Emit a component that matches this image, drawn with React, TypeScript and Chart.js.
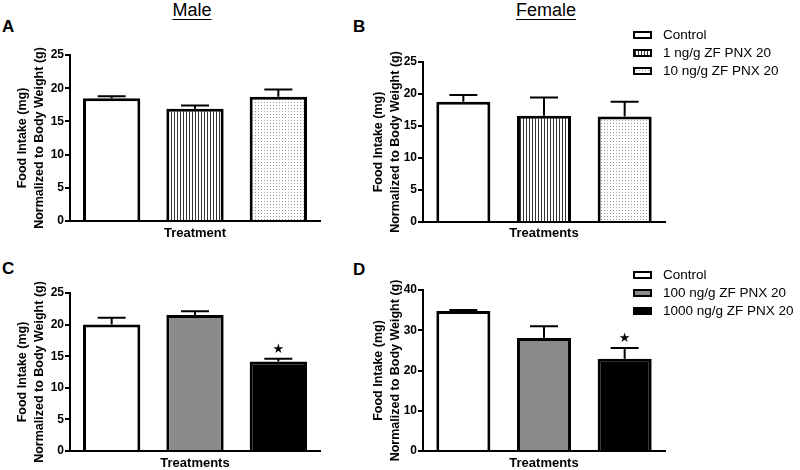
import React, { useEffect, useRef } from 'react';
import { Chart, registerables } from 'chart.js';
Chart.register(...registerables);

const FONT = "'Liberation Sans', Arial, Helvetica, sans-serif";

const lowDoseLabels = ['Control', '1 ng/g ZF PNX 20', '10 ng/g ZF PNX 20'];
const highDoseLabels = ['Control', '100 ng/g ZF PNX 20', '1000 ng/g ZF PNX 20'];

const maleLowMean = [18.5, 16.9, 18.7];
const maleLowSem = [0.3, 0.5, 1.1];
const femaleLowMean = [18.8, 16.6, 16.5];
const femaleLowSem = [1.05, 2.85, 2.3];
const maleHighMean = [20.0, 21.5, 14.15];
const maleHighSem = [1.1, 0.6, 0.45];
const femaleHighMean = [34.8, 28.1, 22.9];
const femaleHighSem = [0.25, 2.9, 2.7];
const maleHighStars = [false, false, true];
const femaleHighStars = [false, false, true];

const yTicks25 = [0, 5, 10, 15, 20, 25];
const yTicks40 = [0, 10, 20, 30, 40];
const yTitleLines = ['Food Intake (mg)', 'Normalized to Body Weight (g)'];

function makePattern(ctx: CanvasRenderingContext2D, kind: string): any {
  const c = document.createElement('canvas');
  const x = c.getContext('2d')!;
  if (kind === 'stripes') {
    c.width = 3; c.height = 2;
    x.fillStyle = '#fff'; x.fillRect(0, 0, 3, 2);
    x.fillStyle = '#333'; x.fillRect(0, 0, 1, 2);
  } else {
    c.width = 3; c.height = 3;
    x.fillStyle = '#fff'; x.fillRect(0, 0, 3, 3);
    x.fillStyle = '#9a9a9a'; x.fillRect(0, 0, 1, 1);
  }
  return ctx.createPattern(c, 'repeat');
}

type PanelProps = {
  left: number; top: number; width: number; height: number;
  area: { l: number; t: number; r: number; b: number };
  labels: string[]; means: number[]; sem: number[]; stars?: boolean[];
  ticks: number[]; fills: string[]; xTitle: string; barPct: number; yTitleX: number; xTitleY: number;
};

function Panel(p: PanelProps) {
  const ref = useRef<HTMLCanvasElement>(null);
  useEffect(() => {
    const canvas = ref.current!;
    const ctx = canvas.getContext('2d')!;
    const bg = p.fills.map((f) => (f === 'stripes' || f === 'dots' ? makePattern(ctx, f) : f));
    const errPlugin = {
      id: 'errbars',
      afterDatasetsDraw(chart: any) {
        const meta = chart.getDatasetMeta(0);
        const ys = chart.scales.y;
        const c = chart.ctx;
        c.save();
        c.strokeStyle = '#000';
        c.lineWidth = 2;
        meta.data.forEach((bar: any, i: number) => {
          const base = ys.getPixelForValue(p.means[i]);
          const topPx = ys.getPixelForValue(p.means[i] + p.sem[i]);
          c.beginPath();
          c.moveTo(bar.x, base);
          c.lineTo(bar.x, topPx);
          c.moveTo(bar.x - 14, topPx);
          c.lineTo(bar.x + 14, topPx);
          c.stroke();
          if (p.stars && p.stars[i]) {
            c.fillStyle = '#000';
            c.font = '13px "DejaVu Sans"';
            c.textAlign = 'center';
            c.textBaseline = 'middle';
            c.fillText('★', bar.x, topPx - 9);
          }
        });
        c.restore();
      },
    };
    const chart = new Chart(canvas, {
      type: 'bar',
      data: {
        labels: p.labels,
        datasets: [
          {
            data: p.means,
            backgroundColor: bg,
            borderColor: '#000',
            borderWidth: 3,
            borderSkipped: 'start',
            categoryPercentage: 1,
            barPercentage: p.barPct,
          } as any,
        ],
      },
      options: {
        responsive: false,
        animation: false,
        devicePixelRatio: 1,
        layout: { padding: { left: 0, top: p.area.t, right: p.width - p.area.r, bottom: 0 } },
        plugins: { legend: { display: false }, tooltip: { enabled: false } },
        scales: {
          x: {
            grid: { display: false },
            border: { display: true, color: '#000', width: 2 },
            ticks: { display: false },
            title: {
              display: true,
              text: p.xTitle,
              color: '#000',
              font: { family: FONT, size: 13, weight: 'bold', lineHeight: 1 },
              padding: { top: 0, bottom: p.height - 6.5 - p.xTitleY },
            },
            afterFit: (s: any) => { s.height = p.height - p.area.b; },
          },
          y: {
            min: p.ticks[0],
            max: p.ticks[p.ticks.length - 1],
            afterBuildTicks: (s: any) => { s.ticks = p.ticks.map((v) => ({ value: v })); },
            grid: { drawOnChartArea: false, drawTicks: true, tickLength: 5, color: '#000', lineWidth: 2 },
            border: { display: true, color: '#000', width: 2 },
            ticks: { color: '#000', padding: 1, font: { family: FONT, size: 12, weight: 'bold' } },
            title: {
              display: true,
              text: yTitleLines,
              color: '#000',
              font: { family: FONT, size: 12.5, weight: 'bold', lineHeight: 17 / 12.5 },
              padding: { top: p.yTitleX - 8.5, bottom: 0 },
            },
            afterFit: (s: any) => { s.width = p.area.l; },
          },
        },
      } as any,
      plugins: [errPlugin],
    });
    return () => chart.destroy();
  }, []);
  return (
    <canvas
      ref={ref}
      width={p.width}
      height={p.height}
      style={{ position: 'absolute', left: p.left, top: p.top, width: p.width, height: p.height }}
    />
  );
}

const swatchStyles: Record<string, React.CSSProperties> = {
  white: { background: '#fff' },
  stripes: { background: 'repeating-linear-gradient(90deg, #333 0 1px, #fff 1px 3px)' },
  dots: {
    backgroundColor: '#fff',
    backgroundImage: 'radial-gradient(circle, #999 0.7px, transparent 0.9px)',
    backgroundSize: '3px 3px',
  },
  grey: { background: '#8a8a8a' },
  black: { background: '#000' },
};

function Legend({ top, labels, kinds }: { top: number; labels: string[]; kinds: string[] }) {
  return (
    <>
      {labels.map((l, i) => {
        const cy = top + i * 18;
        return (
          <React.Fragment key={i}>
            <div
              style={{
                position: 'absolute', left: 633, top: cy - 4, width: 19, height: 8,
                border: '2px solid #000', boxSizing: 'border-box', ...swatchStyles[kinds[i]],
              }}
            />
            <div
              style={{
                position: 'absolute', left: 663, top: cy - 9, height: 18, lineHeight: '18px',
                fontFamily: FONT, fontSize: 13.5, color: '#000', whiteSpace: 'nowrap',
              }}
            >
              {l}
            </div>
          </React.Fragment>
        );
      })}
    </>
  );
}

const letterStyle = (left: number, top: number): React.CSSProperties => ({
  position: 'absolute', left, top, fontFamily: FONT, fontWeight: 'bold', fontSize: 17,
  lineHeight: '17px', color: '#000',
});

export default function App() {
  return (
    <div style={{ position: 'fixed', left: 0, top: 0, width: 800, height: 470, background: '#fff', overflow: 'hidden' }}>
      <div style={{ position: 'absolute', left: 192, top: 1, transform: 'translateX(-50%)', fontFamily: FONT, fontSize: 18, lineHeight: '18px', textDecoration: 'underline', textUnderlineOffset: '3px', color: '#000' }}>Male</div>
      <div style={{ position: 'absolute', left: 546, top: 1, transform: 'translateX(-50%)', fontFamily: FONT, fontSize: 18, lineHeight: '18px', textDecoration: 'underline', textUnderlineOffset: '3px', color: '#000' }}>Female</div>
      <div style={letterStyle(2, 18)}>A</div>
      <div style={letterStyle(353, 18)}>B</div>
      <div style={letterStyle(2, 260)}>C</div>
      <div style={letterStyle(353, 261)}>D</div>

      <Panel left={0} top={0} width={330} height={240} area={{ l: 70, t: 55, r: 320, b: 221 }}
        labels={lowDoseLabels} means={maleLowMean} sem={maleLowSem} ticks={yTicks25}
        fills={['#fff', 'stripes', 'dots']} xTitle="Treatment" barPct={0.688} yTitleX={23} xTitleY={233} />
      <Panel left={340} top={0} width={335} height={240} area={{ l: 83, t: 62, r: 325, b: 222 }}
        labels={lowDoseLabels} means={femaleLowMean} sem={femaleLowSem} ticks={yTicks25}
        fills={['#fff', 'stripes', 'dots']} xTitle="Treatments" barPct={0.67} yTitleX={39} xTitleY={233} />
      <Panel left={0} top={240} width={330} height={230} area={{ l: 70, t: 53, r: 320, b: 211 }}
        labels={highDoseLabels} means={maleHighMean} sem={maleHighSem} stars={maleHighStars} ticks={yTicks25}
        fills={['#fff', '#8a8a8a', '#000']} xTitle="Treatments" barPct={0.688} yTitleX={23} xTitleY={223} />
      <Panel left={340} top={240} width={335} height={230} area={{ l: 83, t: 50, r: 325, b: 211 }}
        labels={highDoseLabels} means={femaleHighMean} sem={femaleHighSem} stars={femaleHighStars} ticks={yTicks40}
        fills={['#fff', '#8a8a8a', '#000']} xTitle="Treatments" barPct={0.67} yTitleX={39} xTitleY={223} />

      <Legend top={34.5} labels={lowDoseLabels} kinds={['white', 'stripes', 'dots']} />
      <Legend top={274.5} labels={highDoseLabels} kinds={['white', 'grey', 'black']} />
    </div>
  );
}
